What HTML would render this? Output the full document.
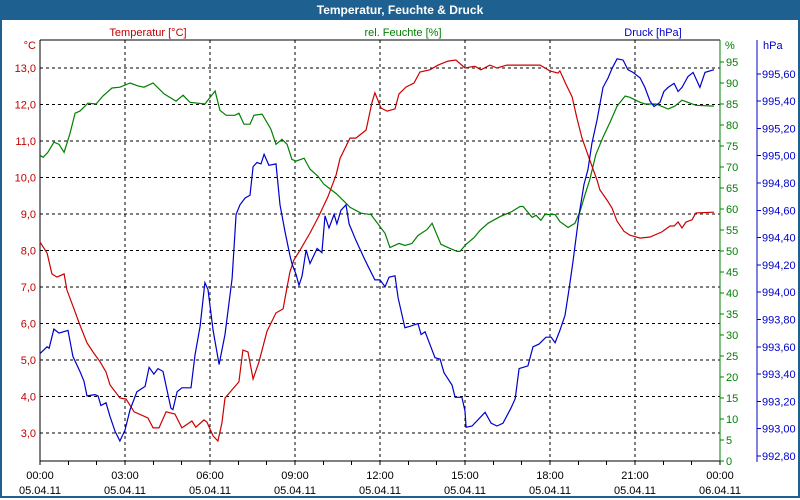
<!DOCTYPE html>
<html><head><meta charset="utf-8">
<style>
body{margin:0;width:800px;height:500px;overflow:hidden;background:#fff;font-family:"Liberation Sans",sans-serif;}
#frame{position:absolute;left:0;top:0;width:796px;height:496px;border:2px solid #1e6090;border-top:none;}
#title{position:absolute;left:0;top:0;width:800px;height:20px;background:#1e6090;color:#fff;font-weight:bold;font-size:12px;line-height:20px;text-align:center;}
svg{position:absolute;left:0;top:0;}
text{font-family:"Liberation Sans",sans-serif;font-size:11px;}
</style></head><body>
<div id="frame"></div>
<div id="title">Temperatur, Feuchte &amp; Druck</div>
<svg id="c" width="800" height="500"></svg>
<script>
const tTemp=[0,.25,.42,.6,.85,.95,1.2,1.41,1.66,1.87,2.12,2.33,2.47,2.82,3.04,3.32,3.81,3.99,4.2,4.45,4.76,5.01,5.36,5.5,5.79,5.89,6.11,6.28,6.42,6.53,6.74,7.02,7.16,7.34,7.52,7.73,8.01,8.33,8.58,8.65,8.82,8.96,9.18,9.53,9.81,10.16,10.45,10.59,10.94,11.15,11.51,11.72,11.82,12.04,12.25,12.53,12.67,12.92,13.2,13.41,13.76,14.05,14.4,14.68,15,15.35,15.56,15.88,16.13,16.48,16.94,17.65,18,18.28,18.35,18.56,18.78,18.95,19.13,19.38,19.66,19.76,20.01,20.19,20.36,20.61,20.82,21.18,21.53,21.95,22.24,22.38,22.52,22.66,22.8,23.01,23.15,23.79];
const temp=[8.23,7.93,7.36,7.27,7.36,6.92,6.4,5.96,5.47,5.22,4.95,4.67,4.32,3.96,3.93,3.58,3.41,3.14,3.14,3.58,3.52,3.14,3.33,3.16,3.36,3.3,2.92,2.78,3.27,3.96,4.15,4.4,5.27,5.22,4.48,4.95,5.79,6.29,6.4,6.7,7.41,7.74,8.01,8.48,8.89,9.47,10.07,10.53,11.08,11.08,11.3,12.07,12.32,11.9,11.82,11.88,12.29,12.48,12.59,12.89,12.95,13.08,13.19,13.22,13,13.05,12.95,13.08,13,13.08,13.08,13.08,12.92,12.86,12.92,12.56,12.21,11.63,11.08,10.53,9.93,9.66,9.38,9.16,8.81,8.53,8.42,8.34,8.37,8.51,8.67,8.67,8.78,8.62,8.78,8.84,9.03,9.05];
const tHum=[0,.11,.28,.49,.67,.85,1.06,1.24,1.41,1.69,1.98,2.22,2.54,2.82,3.18,3.46,3.67,3.99,4.38,4.8,5.05,5.29,5.82,6.18,6.35,6.57,6.88,7.02,7.2,7.41,7.55,7.84,8.15,8.33,8.54,8.72,8.89,9.04,9.32,9.53,9.81,10.02,10.45,10.77,10.94,11.33,11.68,12.18,12.35,12.67,12.88,13.13,13.34,13.66,13.84,14.15,14.4,14.72,14.82,15.04,15.32,15.53,15.81,16.24,16.66,16.94,17.05,17.37,17.51,17.68,17.82,18.18,18.35,18.64,18.88,19.06,19.24,19.41,19.62,19.87,20.12,20.37,20.65,20.82,21.18,21.35,21.74,22.17,22.41,22.66,23.15,23.79];
const hum=[72.8,72.3,73.5,75.9,75.4,73.5,78,82.8,83.3,85.2,85,86.9,88.8,89,90,89.3,89,90,87.4,85.7,87.1,85.4,85,88.1,83.5,82.3,82.3,82.8,80.2,80.2,82.3,82.6,79,75.4,76.6,75.4,71.8,71.4,72.1,69.5,67.8,65.9,63.7,61.6,60.4,59,58.7,54.2,50.8,51.8,51.3,51.8,53.7,55.1,56.6,51.6,50.8,49.9,49.9,51.6,53.2,54.9,56.6,58.2,59.4,60.6,60.6,58,58.5,57.3,58.7,58.7,57,55.6,56.6,59.4,63.5,67.1,73,77.1,80.7,84.5,86.9,86.6,85.4,85,85,83.8,84.5,85.9,84.7,84.5];
const tPres=[0,.25,.32,.49,.67,.99,1.16,1.41,1.55,1.66,1.94,2.05,2.15,2.33,2.47,2.65,2.82,3,3.18,3.42,3.71,3.85,4.02,4.16,4.34,4.62,4.69,4.84,5.01,5.33,5.47,5.65,5.82,5.93,6.11,6.32,6.53,6.78,6.92,7.06,7.24,7.41,7.52,7.66,7.8,7.91,8.08,8.33,8.47,8.65,8.82,8.89,9.04,9.14,9.25,9.39,9.53,9.78,9.95,10.06,10.2,10.38,10.48,10.62,10.8,10.91,11.15,11.44,11.58,11.82,12,12.18,12.32,12.53,12.64,12.88,13.06,13.34,13.45,13.59,13.94,14.12,14.26,14.54,14.65,14.89,15,15.04,15.25,15.71,15.92,16.13,16.34,16.62,16.77,16.91,17.22,17.4,17.61,17.86,18.04,18.18,18.35,18.53,18.67,18.81,19.02,19.2,19.34,19.48,19.66,19.87,20.05,20.19,20.37,20.58,20.75,20.93,21.18,21.35,21.53,21.67,21.88,22.02,22.17,22.38,22.52,22.66,22.87,23.05,23.29,23.47,23.79];
const pres=[993.55,993.6,993.59,993.73,993.7,993.72,993.53,993.42,993.35,993.24,993.25,993.24,993.17,993.19,993.09,992.98,992.91,992.99,993.14,993.27,993.31,993.45,993.4,993.44,993.42,993.15,993.14,993.27,993.3,993.3,993.54,993.75,994.07,994.02,993.72,993.47,993.69,994.1,994.57,994.64,994.69,994.71,994.92,994.95,994.94,995.01,994.93,994.94,994.64,994.44,994.27,994.21,994.13,994.05,994.12,994.31,994.21,994.32,994.29,994.56,994.47,994.57,994.5,994.6,994.64,994.5,994.38,994.25,994.19,994.09,994.09,994.04,994.11,994.12,993.96,993.74,993.75,993.77,993.69,993.71,993.52,993.51,993.41,993.32,993.23,993.23,993.13,993.01,993.02,993.12,993.04,993.02,993.04,993.15,993.22,993.44,993.46,993.6,993.62,993.67,993.67,993.63,993.72,993.83,994.02,994.22,994.56,994.79,994.9,995.09,995.26,995.5,995.57,995.64,995.71,995.7,995.63,995.61,995.57,995.5,995.4,995.36,995.39,995.47,995.5,995.53,995.47,995.5,995.58,995.61,995.5,995.61,995.63];
const tempTicks=[3,4,5,6,7,8,9,10,11,12,13];
const humTicks=[0,5,10,15,20,25,30,35,40,45,50,55,60,65,70,75,80,85,90,95];
const presTicks=[992.8,993.0,993.2,993.4,993.6,993.8,994.0,994.2,994.4,994.6,994.8,995.0,995.2,995.4,995.6];
const timeTicks=[0,3,6,9,12,15,18,21,24];
const timeLabels=["00:00","03:00","06:00","09:00","12:00","15:00","18:00","21:00","00:00"];
const dateLabels=["05.04.11","05.04.11","05.04.11","05.04.11","05.04.11","05.04.11","05.04.11","05.04.11","06.04.11"];

const L=40,R=720,T=40,B=461;
const x=t=>L+t*(R-L)/24;
const yT=v=>68+(13-v)*36.5;
const yH=v=>B-v*4.2;
const yP=v=>456-(v-992.8)*136.5;
const svg=document.getElementById('c');
const NS='http://www.w3.org/2000/svg';
function mk(tag,a,parent){const e=document.createElementNS(NS,tag);for(const k in a)e.setAttribute(k,a[k]);(parent||svg).appendChild(e);return e;}
function txt(s,a){const e=mk('text',a);e.textContent=s;return e;}

// grid
tempTicks.forEach(v=>{if(v===3||true){const g=mk('line',{x1:L,x2:R,y1:yT(v),y2:yT(v),stroke:'#000','stroke-dasharray':'3,3','shape-rendering':'crispEdges'});

}});
timeTicks.slice(1,-1).forEach(t=>{const g=mk('line',{x1:x(t),x2:x(t),y1:T,y2:B,stroke:'#000','stroke-dasharray':'3,3','shape-rendering':'crispEdges'});

});

// axes
let a=mk('line',{x1:L,x2:R,y1:T,y2:T,stroke:'#000','shape-rendering':'crispEdges'});


a=mk('line',{x1:L,x2:L,y1:T,y2:B+1,stroke:'#000','shape-rendering':'crispEdges'});


a=mk('line',{x1:L,x2:R,y1:B,y2:B,stroke:'#000','shape-rendering':'crispEdges'});


a=mk('line',{x1:R,x2:R,y1:T,y2:B+1,stroke:'#008000','shape-rendering':'crispEdges'});


a=mk('line',{x1:757,x2:757,y1:T,y2:462,stroke:'#0000cc','shape-rendering':'crispEdges'});



// temp labels
tempTicks.forEach(v=>{const e=txt(v.toFixed(1).replace('.',','),{x:36,y:yT(v)+4,'text-anchor':'end',fill:'#c00000'});

});
let e=txt('°C',{x:36,y:49,'text-anchor':'end',fill:'#c00000'});


// humidity
humTicks.forEach(v=>{const k=mk('line',{x1:R,x2:R+4,y1:yH(v),y2:yH(v),stroke:'#008000','shape-rendering':'crispEdges'});


const l=txt(String(v),{x:R+6,y:yH(v)+4,fill:'#008000'});

});
e=txt('%',{x:725,y:49,fill:'#008000'});


// pressure
presTicks.forEach(v=>{const k=mk('line',{x1:757,x2:761,y1:yP(v),y2:yP(v),stroke:'#0000cc','shape-rendering':'crispEdges'});


const l=txt(v.toFixed(2).replace('.',','),{x:762,y:yP(v)+4,fill:'#0000cc'});

});
e=txt('hPa',{x:763,y:49,fill:'#0000cc'});


// time
for(let h=0;h<=24;h++){const k=mk('line',{x1:x(h),x2:x(h),y1:B,y2:B+4,stroke:'#000','shape-rendering':'crispEdges'});

}
timeTicks.forEach((t,i)=>{const l=txt(timeLabels[i],{x:x(t),y:479,'text-anchor':'middle',fill:'#000'});


const d=txt(dateLabels[i],{x:x(t),y:494,'text-anchor':'middle',fill:'#000'});

});
// series titles
e=txt('Temperatur [°C]',{x:148,y:36,'text-anchor':'middle',fill:'#c00000'});


e=txt('rel. Feuchte [%]',{x:403,y:36,'text-anchor':'middle',fill:'#008000'});


e=txt('Druck [hPa]',{x:653,y:36,'text-anchor':'middle',fill:'#0000cc'});



function line(ts,vs,fy,col,name){const d=ts.map((t,i)=>(i?'L':'M')+x(t).toFixed(1)+','+fy(vs[i]).toFixed(1)).join('');
const p=mk('path',{d:d,fill:'none',stroke:col,'stroke-width':1.2});

}
line(tHum,hum,yH,'#008000','humidity-line');
line(tTemp,temp,yT,'#cc0000','temperature-line');
line(tPres,pres,yP,'#0000cc','pressure-line');
</script>
</body></html>
